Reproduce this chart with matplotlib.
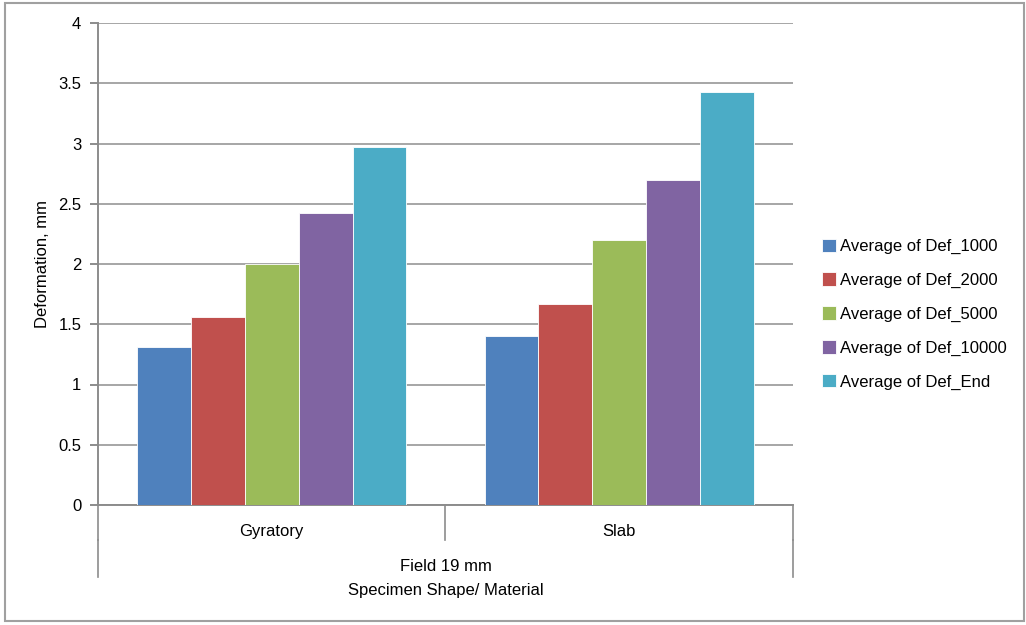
"""Average deformation by specimen shape - Field 19 mm."""

import matplotlib.pyplot as plt
from matplotlib.patches import Rectangle

plt.rcParams["font.family"] = ["Liberation Sans", "DejaVu Sans"]

CATEGORIES = ["Gyratory", "Slab"]
SERIES = [
    "Average of Def_1000",
    "Average of Def_2000",
    "Average of Def_5000",
    "Average of Def_10000",
    "Average of Def_End",
]
VALUES = {
    "Average of Def_1000": [1.31, 1.40],
    "Average of Def_2000": [1.56, 1.67],
    "Average of Def_5000": [2.00, 2.20],
    "Average of Def_10000": [2.42, 2.70],
    "Average of Def_End": [2.97, 3.43],
}
COLORS = ["#4f81bd", "#c0504d", "#9bbb59", "#8064a2", "#4bacc6"]
GROUP_LABEL = "Field 19 mm"

AXIS_GRAY = "#8c8c8c"
GRID_GRAY = "#a6a6a6"
FS = 12

fig = plt.figure(figsize=(10.26, 6.25), dpi=100)
ax = fig.add_axes([0.0955, 0.192, 0.6774, 0.7712])

bar_w = 0.155
n = len(SERIES)
for i, (name, color) in enumerate(zip(SERIES, COLORS)):
    xs = [c + 0.5 + (i - (n - 1) / 2) * bar_w for c in range(len(CATEGORIES))]
    ax.bar(xs, VALUES[name], width=bar_w, color=color, label=name,
           edgecolor="white", linewidth=0.6, zorder=3)

ax.set_xlim(0, len(CATEGORIES))
ax.set_ylim(0, 4)
ax.set_yticks([0, 0.5, 1, 1.5, 2, 2.5, 3, 3.5, 4])
ax.set_yticklabels(["0", "0.5", "1", "1.5", "2", "2.5", "3", "3.5", "4"])
ax.yaxis.grid(True, color=GRID_GRAY, linewidth=1.4, zorder=0)
ax.set_axisbelow(True)
ax.tick_params(axis="y", length=6, width=1.4, color=AXIS_GRAY, labelsize=FS, pad=6)
ax.set_xticks([])

for side in ["top", "right"]:
    ax.spines[side].set_visible(False)
ax.spines["left"].set_color(AXIS_GRAY)
ax.spines["left"].set_linewidth(1.4)
ax.spines["bottom"].set_color(AXIS_GRAY)
ax.spines["bottom"].set_linewidth(1.4)

ax.set_ylabel("Deformation, mm", fontsize=FS, labelpad=6)

# multi-level category axis below the plot
tr = ax.get_xaxis_transform()
for x in range(len(CATEGORIES) + 1):
    ax.plot([x, x], [0, -0.0726], transform=tr, color=AXIS_GRAY,
            linewidth=1.2, clip_on=False)
for x in [0, len(CATEGORIES)]:
    ax.plot([x, x], [-0.0726, -0.149], transform=tr, color=AXIS_GRAY,
            linewidth=1.2, clip_on=False)
for c, label in enumerate(CATEGORIES):
    ax.text(c + 0.5, -0.054, label, transform=tr, ha="center", va="center",
            fontsize=FS)
ax.text(len(CATEGORIES) / 2, -0.1286, GROUP_LABEL, transform=tr,
        ha="center", va="center", fontsize=FS)
ax.text(len(CATEGORIES) / 2, -0.178, "Specimen Shape/ Material", transform=tr,
        ha="center", va="center", fontsize=FS)

ax.legend(loc="center left", bbox_to_anchor=(1.02, 0.396), frameon=False,
          fontsize=FS, handlelength=0.85, handleheight=0.85,
          handletextpad=0.25, labelspacing=1.1)

fig.patches.append(Rectangle((0.005, 0.006), 0.993, 0.989, transform=fig.transFigure,
                             fill=False, edgecolor="#a0a0a0", linewidth=1.5))

fig.savefig("out.png", dpi=100)
